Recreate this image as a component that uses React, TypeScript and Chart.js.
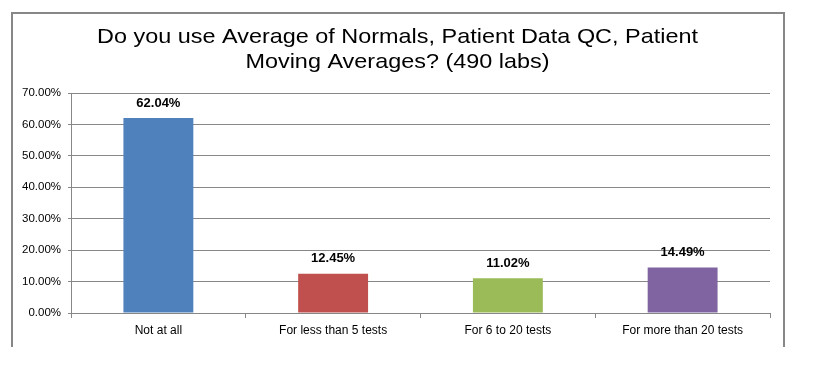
import React, { useEffect, useRef } from "react";
import { Chart, registerables } from "chart.js";

Chart.register(...registerables);

const categories = ["Not at all", "For less than 5 tests", "For 6 to 20 tests", "For more than 20 tests"];
const values = [62.04, 12.45, 11.02, 14.49];
const barColors = ["#4F81BD", "#C0504D", "#9BBB59", "#8064A2"];
const titleLines = ["Do you use Average of Normals, Patient Data QC, Patient", "Moving Averages? (490 labs)"];
const yMax = 70;
const yStep = 10;

const FONT = "'Liberation Sans', Arial, sans-serif";

const framePlugin = {
  id: "frame",
  beforeDraw(chart: any) {
    const ctx = chart.ctx;
    ctx.save();
    ctx.fillStyle = "#ffffff";
    ctx.fillRect(0, 0, chart.width, chart.height);
    ctx.strokeStyle = "#878787";
    ctx.lineWidth = 2;
    ctx.beginPath();
    ctx.moveTo(12, 347);
    ctx.lineTo(12, 13);
    ctx.lineTo(784, 13);
    ctx.lineTo(784, 347);
    ctx.stroke();
    // title
    ctx.fillStyle = "#000000";
    ctx.font = `21px ${FONT}`;
    ctx.textAlign = "center";
    ctx.textBaseline = "alphabetic";
    const ys = [43, 68];
    titleLines.forEach((line, i) => {
      ctx.save();
      ctx.translate(397.5, ys[i]);
      ctx.scale(1.115, 1);
      ctx.fillText(line, 0, 0);
      ctx.restore();
    });
    ctx.restore();
  },
};

const labelPlugin = {
  id: "barLabels",
  afterDatasetsDraw(chart: any) {
    const ctx = chart.ctx;
    const meta = chart.getDatasetMeta(0);
    ctx.save();
    ctx.fillStyle = "#000000";
    ctx.font = `bold 13px ${FONT}`;
    ctx.textAlign = "center";
    ctx.textBaseline = "middle";
    meta.data.forEach((bar: any, i: number) => {
      ctx.fillText(values[i].toFixed(2) + "%", bar.x, bar.y - 15);
    });
    ctx.restore();
  },
};

export default function App() {
  const ref = useRef<HTMLCanvasElement>(null);
  useEffect(() => {
    if (!ref.current) return;
    const chart = new Chart(ref.current, {
      type: "bar",
      data: {
        labels: categories,
        datasets: [
          {
            data: values,
            backgroundColor: barColors,
            borderWidth: 0,
            categoryPercentage: 1,
            barPercentage: 0.4,
          },
        ],
      },
      options: {
        animation: false,
        responsive: false,
        maintainAspectRatio: false,
        layout: { padding: { left: 0, right: 813 - 770, top: 93, bottom: 0 } },
        plugins: {
          legend: { display: false },
          title: { display: false },
          tooltip: { enabled: false },
        },
        scales: {
          x: {
            grid: {
              offset: true,
              drawOnChartArea: false,
              drawTicks: true,
              tickLength: 5,
              color: "#878787",
            },
            border: { color: "#878787", width: 1 },
            ticks: {
              color: "#000000",
              font: { family: FONT, size: 12 },
              padding: 5,
              maxRotation: 0,
              autoSkip: false,
            },
            afterFit(scale: any) {
              scale.height = 367 - 313;
            },
          },
          y: {
            min: 0,
            max: yMax,
            ticks: {
              stepSize: yStep,
              color: "#000000",
              font: { family: FONT, size: 11.5 },
              padding: 7,
              callback: (v: any) => Number(v).toFixed(2) + "%",
            },
            grid: {
              color: "#878787",
              lineWidth: 1,
              tickLength: 3,
              drawTicks: true,
            },
            border: { color: "#878787", width: 1 },
            afterFit(scale: any) {
              scale.width = 71;
            },
          },
        },
      },
      plugins: [framePlugin, labelPlugin],
    });
    return () => chart.destroy();
  }, []);
  return (
    <div style={{ position: "absolute", left: 0, top: 0, width: 813, height: 367 }}>
      <canvas ref={ref} width={813} height={367} style={{ width: 813, height: 367 }} />
    </div>
  );
}
